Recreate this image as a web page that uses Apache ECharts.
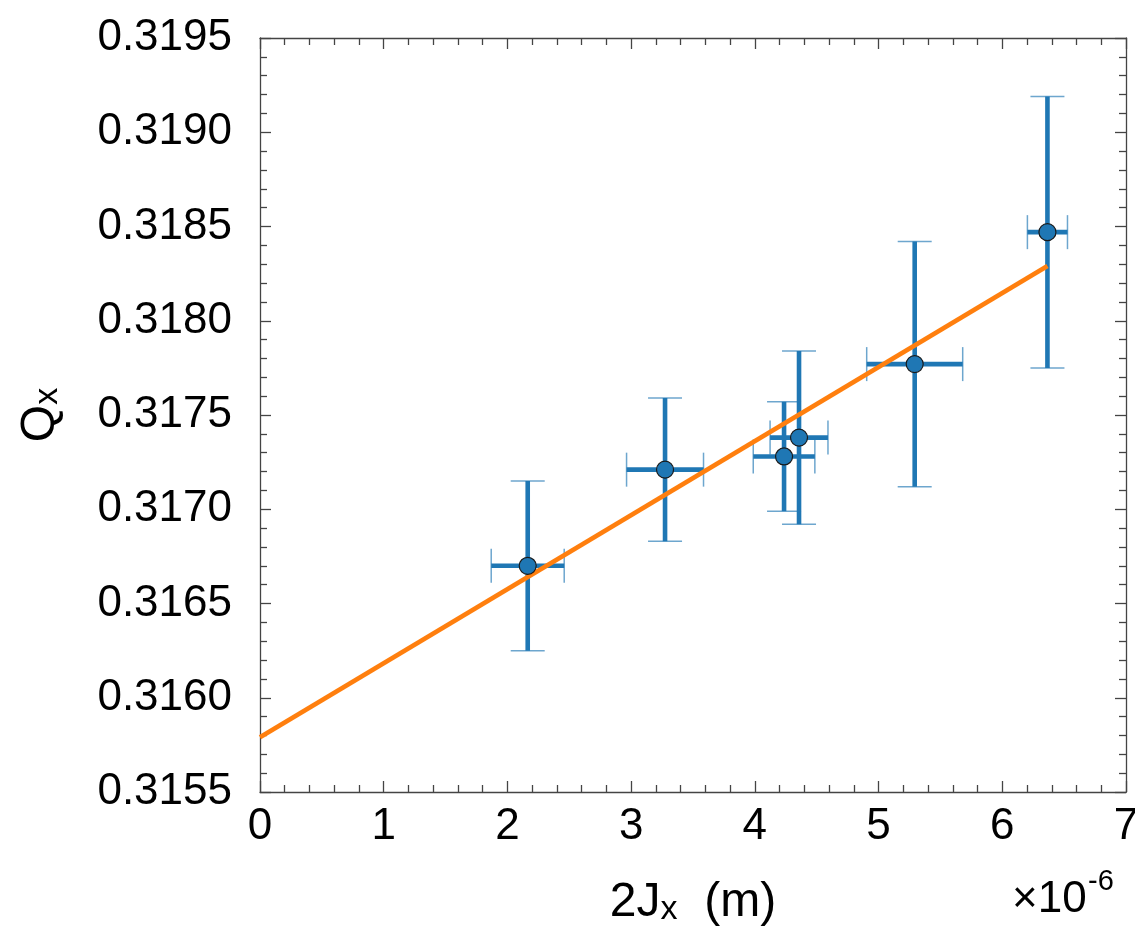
<!DOCTYPE html>
<html>
<head>
<meta charset="utf-8">
<script src="https://cdn.jsdelivr.net/npm/echarts@6/dist/echarts.min.js"></script>
<style>
  html, body { margin: 0; padding: 0; background: #fff; }
  #chart { width: 1135px; height: 928px; }
</style>
</head>
<body>
<div id="chart"></div>
<script>
// Measured tune shift versus horizontal action, with uncertainties
const jx      = [2.164, 3.274, 4.236, 4.357, 5.292, 6.365];   // 2Jx, units of 1e-6 m
const jxErr   = [0.295, 0.311, 0.249, 0.234, 0.388, 0.162];
const qx      = [0.31670, 0.31721, 0.31728, 0.31738, 0.31777, 0.31847];
const qxErr   = [0.00045, 0.00038, 0.00029, 0.00046, 0.00065, 0.00072];

// Linear fit endpoints
const fitJx = [0, 6.365];
const fitQx = [0.31579, 0.31829];

// Axis ranges / ticks
const xTicks = { min: 0, max: 7, interval: 1 };
const yTicks = { min: 0.3155, max: 0.3195, interval: 0.0005 };

const BLUE = '#1f77b4';
const ORANGE = '#ff7f0e';
const AXIS = '#444';
const FONT = '"Liberation Sans", Arial, Helvetica, sans-serif';

const errData = jx.map((x, i) => [x, qx[i], jxErr[i], qxErr[i]]);
const ptData = jx.map((x, i) => [x, qx[i]]);
const fitData = fitJx.map((x, i) => [x, fitQx[i]]);

function renderErrorBars(params, api) {
  const x = api.value(0), y = api.value(1), ex = api.value(2), ey = api.value(3);
  const top = api.coord([x, y + ey]);
  const bot = api.coord([x, y - ey]);
  const lft = api.coord([x - ex, y]);
  const rgt = api.coord([x + ex, y]);
  const cap = 17;
  const capStyle = { stroke: 'rgba(31,119,180,0.65)', lineWidth: 1.5 };
  const barStyle = { stroke: BLUE, lineWidth: 4.6 };
  return {
    type: 'group',
    children: [
      { type: 'line', shape: { x1: top[0] - cap, y1: top[1], x2: top[0] + cap, y2: top[1] }, style: capStyle },
      { type: 'line', shape: { x1: bot[0] - cap, y1: bot[1], x2: bot[0] + cap, y2: bot[1] }, style: capStyle },
      { type: 'line', shape: { x1: lft[0], y1: lft[1] - cap, x2: lft[0], y2: lft[1] + cap }, style: capStyle },
      { type: 'line', shape: { x1: rgt[0], y1: rgt[1] - cap, x2: rgt[0], y2: rgt[1] + cap }, style: capStyle },
      { type: 'line', shape: { x1: top[0], y1: top[1], x2: bot[0], y2: bot[1] }, style: barStyle },
      { type: 'line', shape: { x1: lft[0], y1: lft[1], x2: rgt[0], y2: rgt[1] }, style: barStyle }
    ]
  };
}

// Boxed frame: every side carries inward major + minor ticks
function frameAxis() {
  return {
    axisLine: { show: true, onZero: false, lineStyle: { color: AXIS, width: 1.3 } },
    axisTick: { show: true, inside: true, length: 11, lineStyle: { color: AXIS, width: 1.3 } },
    minorTick: { show: true, splitNumber: 5, length: 7, lineStyle: { color: AXIS, width: 1.3 } },
    splitLine: { show: false },
    minorSplitLine: { show: false }
  };
}

const nameRich = {
  a: { fontSize: 48, lineHeight: 60, fontFamily: FONT, color: '#000', verticalAlign: 'bottom' },
  s: { fontSize: 34, lineHeight: 30, fontFamily: FONT, color: '#000', verticalAlign: 'bottom' }
};

const chart = echarts.init(document.getElementById('chart'), null, { renderer: 'canvas' });
chart.setOption({
  animation: false,
  backgroundColor: '#fff',
  grid: { left: 260, top: 38, right: 9, bottom: 136, containLabel: false, outerBoundsMode: 'none' },
  xAxis: [
    Object.assign({
      type: 'value', position: 'bottom',
      min: xTicks.min, max: xTicks.max, interval: xTicks.interval,
      axisLabel: { show: true, margin: 13, fontSize: 44, fontFamily: FONT, color: '#000' },
      name: '{a|2J}{s|x}{a|  (m)}',
      nameLocation: 'middle', nameGap: 75,
      nameTextStyle: { rich: nameRich }
    }, frameAxis()),
    Object.assign({
      type: 'value', position: 'top',
      min: xTicks.min, max: xTicks.max, interval: xTicks.interval,
      axisLabel: { show: false }
    }, frameAxis())
  ],
  yAxis: [
    Object.assign({
      type: 'value', position: 'left',
      min: yTicks.min, max: yTicks.max, interval: yTicks.interval,
      axisLabel: { show: true, margin: 28, fontSize: 44, fontFamily: FONT, color: '#000',
                   formatter: v => v.toFixed(4) },
      name: '{a|Q}{s|x}',
      nameLocation: 'middle', nameGap: 195,
      nameTextStyle: { rich: nameRich }
    }, frameAxis()),
    Object.assign({
      type: 'value', position: 'right',
      min: yTicks.min, max: yTicks.max, interval: yTicks.interval,
      axisLabel: { show: false }
    }, frameAxis())
  ],
  graphic: [
    { type: 'text', x: 1012, y: 900,
      style: { text: '×10', fontSize: 44, fontFamily: FONT, fill: '#000', align: 'left', verticalAlign: 'middle' } },
    { type: 'text', x: 1088, y: 882,
      style: { text: '-6', fontSize: 29, fontFamily: FONT, fill: '#000', align: 'left', verticalAlign: 'middle' } }
  ],
  series: [
    {
      type: 'custom', name: 'errors',
      renderItem: renderErrorBars,
      data: errData,
      encode: { x: 0, y: 1 },
      z: 2, silent: true
    },
    {
      type: 'line', name: 'fit',
      data: fitData,
      showSymbol: false, symbol: 'none',
      lineStyle: { color: ORANGE, width: 4.6 },
      z: 3, silent: true
    },
    {
      type: 'scatter', name: 'Qx',
      data: ptData,
      symbol: 'circle', symbolSize: 17,
      itemStyle: { color: BLUE, borderColor: '#1a1a1a', borderWidth: 1.2, opacity: 1 },
      z: 4, silent: true
    }
  ]
});
</script>
</body>
</html>
